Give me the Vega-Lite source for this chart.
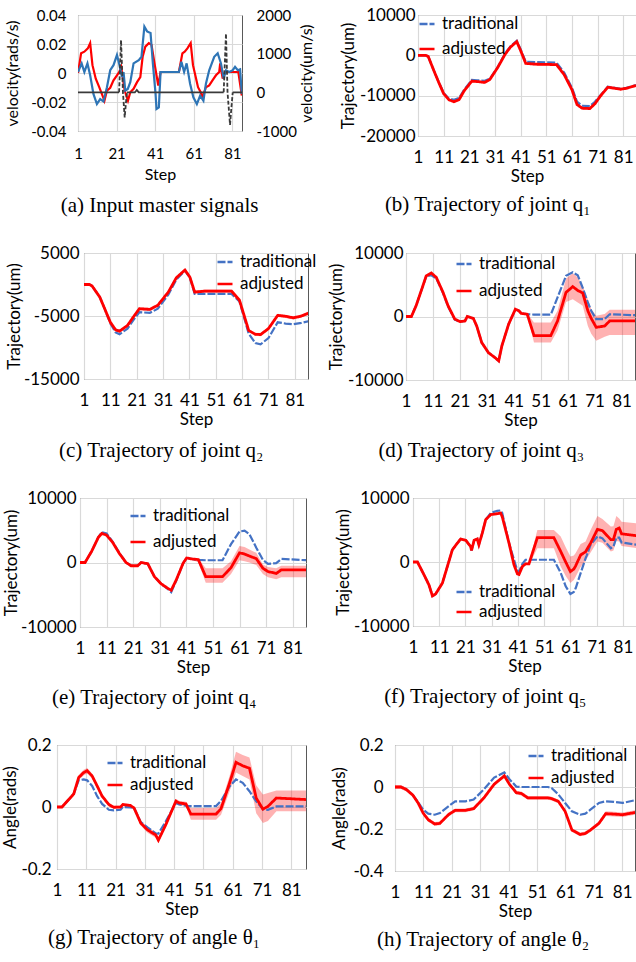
{
"$schema": "https://vega.github.io/schema/vega-lite/v6.json",
"padding": {"left": 0, "top": 5, "right": 0, "bottom": 0},
"background": "white",
"columns": 1,
"align": "none",
"resolve": {"scale": {"color": "independent", "strokeDash": "independent"}, "legend": {"color": "independent", "strokeDash": "independent"}},
"datasets": {
"a_left": [{"c":"red","s":1,"v":0},{"c":"red","s":2.6,"v":0.0136},{"c":"red","s":4.3,"v":0.0147},{"c":"red","s":6.1,"v":0.017},{"c":"red","s":7.3,"v":0.0206},{"c":"red","s":8.5,"v":0.0054},{"c":"red","s":10.2,"v":-0.0039},{"c":"red","s":12,"v":-0.0098},{"c":"red","s":13.7,"v":-0.0156},{"c":"red","s":14.7,"v":-0.0191},{"c":"red","s":16,"v":-0.0121},{"c":"red","s":17.7,"v":-0.0102},{"c":"red","s":19.4,"v":-0.0051},{"c":"red","s":21.2,"v":-0.0016},{"c":"red","s":22.4,"v":0.0007},{"c":"red","s":23.4,"v":0.004},{"c":"red","s":25.2,"v":-0.0121},{"c":"red","s":26.9,"v":-0.0191},{"c":"red","s":28.1,"v":-0.0133},{"c":"red","s":29.8,"v":-0.0109},{"c":"red","s":31.6,"v":-0.0063},{"c":"red","s":33.3,"v":-0.0028},{"c":"red","s":34.5,"v":0.0112},{"c":"red","s":35.9,"v":0.0182},{"c":"red","s":37.7,"v":0.0206},{"c":"red","s":39.1,"v":0.0194},{"c":"red","s":40.8,"v":0.0054},{"c":"red","s":42.6,"v":-0.0086},{"c":"red","s":43.8,"v":0.0007},{"c":"red","s":53.3,"v":0.0007},{"c":"red","s":55.1,"v":0.0136},{"c":"red","s":56.3,"v":0.0147},{"c":"red","s":57.7,"v":0.017},{"c":"red","s":59.4,"v":0.0206},{"c":"red","s":60.6,"v":0.0054},{"c":"red","s":62,"v":-0.0028},{"c":"red","s":63.2,"v":-0.0098},{"c":"red","s":64.6,"v":-0.0133},{"c":"red","s":65.5,"v":-0.0168},{"c":"red","s":67.3,"v":-0.0098},{"c":"red","s":69,"v":-0.0086},{"c":"red","s":70.7,"v":-0.0051},{"c":"red","s":72.5,"v":-0.0016},{"c":"red","s":74.2,"v":0.0007},{"c":"red","s":74.7,"v":0.0066},{"c":"red","s":76,"v":-0.0039},{"c":"red","s":77.2,"v":0.0007},{"c":"red","s":84.1,"v":0.0007},{"c":"red","s":85.9,"v":-0.0156},
{"c":"blue","s":1,"v":0.0007},{"c":"blue","s":2.9,"v":0.0066},{"c":"blue","s":4.3,"v":0.0007},{"c":"blue","s":5.9,"v":0.0066},{"c":"blue","s":7.3,"v":-0.0016},{"c":"blue","s":9,"v":-0.0144},{"c":"blue","s":10.8,"v":-0.0214},{"c":"blue","s":12.5,"v":-0.018},{"c":"blue","s":14.2,"v":-0.0196},{"c":"blue","s":16,"v":-0.0098},{"c":"blue","s":17.7,"v":0.0019},{"c":"blue","s":19.4,"v":0.0054},{"c":"blue","s":21.2,"v":0.0124},{"c":"blue","s":22.5,"v":0.0054},{"c":"blue","s":23.8,"v":-0.0028},{"c":"blue","s":24.6,"v":0.0007},{"c":"blue","s":25.5,"v":-0.0121},{"c":"blue","s":26.8,"v":-0.011},{"c":"blue","s":28.1,"v":-0.0063},{"c":"blue","s":29.8,"v":0.0066},{"c":"blue","s":32.5,"v":0.0089},{"c":"blue","s":33.9,"v":0.0112},{"c":"blue","s":35.4,"v":0.032},{"c":"blue","s":36.8,"v":0.0287},{"c":"blue","s":38.6,"v":0.0276},{"c":"blue","s":39.8,"v":0.0066},{"c":"blue","s":41.2,"v":-0.0144},{"c":"blue","s":41.7,"v":-0.0249},{"c":"blue","s":42.9,"v":-0.0238},{"c":"blue","s":43.8,"v":0.0007},{"c":"blue","s":53.3,"v":0.0007},{"c":"blue","s":54.6,"v":0.0077},{"c":"blue","s":56,"v":0.0007},{"c":"blue","s":57.3,"v":0.0066},{"c":"blue","s":59.1,"v":-0.0074},{"c":"blue","s":60.8,"v":-0.0168},{"c":"blue","s":62.6,"v":-0.0214},{"c":"blue","s":64.3,"v":-0.0156},{"c":"blue","s":66,"v":-0.0191},{"c":"blue","s":67.3,"v":-0.0074},{"c":"blue","s":69,"v":0.0019},{"c":"blue","s":71.6,"v":0.0112},{"c":"blue","s":73.4,"v":0.0136},{"c":"blue","s":75.1,"v":0.0066},{"c":"blue","s":76.5,"v":-0.0039},{"c":"blue","s":77.7,"v":0.0019},{"c":"blue","s":79.4,"v":0.0007},{"c":"blue","s":81.2,"v":0.0019},{"c":"blue","s":82.4,"v":0.0042},{"c":"blue","s":83.8,"v":0.0019},{"c":"blue","s":85,"v":0.0025},{"c":"blue","s":85.9,"v":-0.0144}],
"a_right": [{"k":"solid","g":"s1","s":1,"v":0},{"k":"solid","g":"s1","s":22.3,"v":0},{"k":"solid","g":"s2","s":26.4,"v":0},{"k":"solid","g":"s2","s":30.5,"v":0},{"k":"solid","g":"s2","s":31.5,"v":60},{"k":"solid","g":"s2","s":32.5,"v":0},{"k":"solid","g":"s2","s":76.5,"v":0},{"k":"solid","g":"s3","s":81.2,"v":0},{"k":"solid","g":"s3","s":86,"v":0},
{"k":"dash","g":"d1","s":22.3,"v":0},{"k":"dash","g":"d1","s":23.3,"v":1350},{"k":"dash","g":"d1","s":24.3,"v":0},{"k":"dash","g":"d1","s":25.2,"v":-650},{"k":"dash","g":"d1","s":25.8,"v":-300},{"k":"dash","g":"d1","s":26.4,"v":0},{"k":"dash","g":"d2","s":76.5,"v":0},{"k":"dash","g":"d2","s":77.7,"v":1520},{"k":"dash","g":"d2","s":78.5,"v":0},{"k":"dash","g":"d2","s":79.8,"v":-840},{"k":"dash","g":"d2","s":80.5,"v":-400},{"k":"dash","g":"d2","s":81.2,"v":0}],
"b": [{"s":1,"traditional":0,"adjusted":0,"lo":-300,"hi":300},{"s":4,"traditional":0,"adjusted":0,"lo":-300,"hi":300},{"s":5,"traditional":-300,"adjusted":-300,"lo":-600,"hi":0},{"s":7,"traditional":-3500,"adjusted":-3500,"lo":-3800,"hi":-3200},{"s":9,"traditional":-6500,"adjusted":-6600,"lo":-6900,"hi":-6300},{"s":11,"traditional":-9300,"adjusted":-9500,"lo":-9800,"hi":-9200},{"s":13,"traditional":-10700,"adjusted":-11000,"lo":-11300,"hi":-10700},{"s":15,"traditional":-11000,"adjusted":-11500,"lo":-11800,"hi":-11200},{"s":17,"traditional":-10600,"adjusted":-11000,"lo":-11300,"hi":-10700},{"s":19,"traditional":-8500,"adjusted":-8800,"lo":-9100,"hi":-8500},{"s":22,"traditional":-6100,"adjusted":-6400,"lo":-6700,"hi":-6100},{"s":24,"traditional":-6200,"adjusted":-6500,"lo":-6800,"hi":-6200},{"s":27,"traditional":-6300,"adjusted":-6700,"lo":-7000,"hi":-6400},{"s":29,"traditional":-5800,"adjusted":-6000,"lo":-6300,"hi":-5700},{"s":32,"traditional":-3000,"adjusted":-3100,"lo":-3400,"hi":-2800},{"s":35,"traditional":500,"adjusted":300,"lo":0,"hi":600},{"s":37,"traditional":2200,"adjusted":2000,"lo":1700,"hi":2300},{"s":39.5,"traditional":3600,"adjusted":3400,"lo":3100,"hi":3700},{"s":41,"traditional":1500,"adjusted":1200,"lo":900,"hi":1500},{"s":43,"traditional":-1600,"adjusted":-2000,"lo":-2300,"hi":-1700},{"s":47,"traditional":-1700,"adjusted":-2200,"lo":-2500,"hi":-1900},{"s":55,"traditional":-1800,"adjusted":-2300,"lo":-2600,"hi":-2000},{"s":58,"traditional":-4300,"adjusted":-4800,"lo":-5100,"hi":-4500},{"s":61,"traditional":-8000,"adjusted":-8500,"lo":-8800,"hi":-8200},{"s":63,"traditional":-11500,"adjusted":-12200,"lo":-12500,"hi":-11900},{"s":65,"traditional":-12500,"adjusted":-13100,"lo":-13400,"hi":-12800},{"s":68,"traditional":-12600,"adjusted":-13200,"lo":-13500,"hi":-12900},{"s":70,"traditional":-11500,"adjusted":-12000,"lo":-12300,"hi":-11700},{"s":72,"traditional":-10000,"adjusted":-10200,"lo":-10500,"hi":-9900},{"s":75,"traditional":-7800,"adjusted":-7900,"lo":-8200,"hi":-7600},{"s":77,"traditional":-8000,"adjusted":-8100,"lo":-8400,"hi":-7800},{"s":80,"traditional":-8300,"adjusted":-8400,"lo":-8700,"hi":-8100},{"s":82,"traditional":-8100,"adjusted":-8200,"lo":-8500,"hi":-7900},{"s":86,"traditional":-7400,"adjusted":-7500,"lo":-7800,"hi":-7200}],
"c": [{"s":1,"traditional":0,"adjusted":0,"lo":-250,"hi":250},{"s":3,"traditional":0,"adjusted":0,"lo":-250,"hi":250},{"s":4,"traditional":-200,"adjusted":-200,"lo":-450,"hi":50},{"s":7,"traditional":-2000,"adjusted":-2000,"lo":-2250,"hi":-1750},{"s":9,"traditional":-4000,"adjusted":-4000,"lo":-4250,"hi":-3750},{"s":11,"traditional":-6200,"adjusted":-6000,"lo":-6250,"hi":-5750},{"s":13,"traditional":-7600,"adjusted":-7200,"lo":-7450,"hi":-6950},{"s":14.5,"traditional":-7900,"adjusted":-7400,"lo":-7650,"hi":-7150},{"s":17.5,"traditional":-7000,"adjusted":-6500,"lo":-6750,"hi":-6250},{"s":20,"traditional":-5500,"adjusted":-5000,"lo":-5250,"hi":-4750},{"s":22,"traditional":-4400,"adjusted":-3850,"lo":-4100,"hi":-3600},{"s":26,"traditional":-4500,"adjusted":-3950,"lo":-4200,"hi":-3700},{"s":29,"traditional":-3850,"adjusted":-3300,"lo":-3550,"hi":-3050},{"s":33,"traditional":-1600,"adjusted":-1200,"lo":-1450,"hi":-950},{"s":36,"traditional":750,"adjusted":1050,"lo":800,"hi":1300},{"s":39.3,"traditional":2200,"adjusted":2300,"lo":2050,"hi":2550},{"s":41.2,"traditional":1100,"adjusted":1150,"lo":900,"hi":1400},{"s":43,"traditional":-1500,"adjusted":-1200,"lo":-1450,"hi":-950},{"s":47,"traditional":-1500,"adjusted":-1050,"lo":-1300,"hi":-800},{"s":57,"traditional":-1500,"adjusted":-1050,"lo":-1300,"hi":-800},{"s":60,"traditional":-2700,"adjusted":-2500,"lo":-2750,"hi":-2250},{"s":63.5,"traditional":-7800,"adjusted":-7300,"lo":-7550,"hi":-7050},{"s":66,"traditional":-9300,"adjusted":-7900,"lo":-8150,"hi":-7650},{"s":68,"traditional":-9500,"adjusted":-7950,"lo":-8200,"hi":-7700},{"s":71,"traditional":-8500,"adjusted":-7000,"lo":-7250,"hi":-6750},{"s":74.5,"traditional":-6000,"adjusted":-4900,"lo":-5150,"hi":-4650},{"s":77.5,"traditional":-6200,"adjusted":-5050,"lo":-5300,"hi":-4800},{"s":80.5,"traditional":-6300,"adjusted":-5300,"lo":-5550,"hi":-5050},{"s":83.5,"traditional":-6100,"adjusted":-5000,"lo":-5250,"hi":-4750},{"s":86.5,"traditional":-5800,"adjusted":-4500,"lo":-4750,"hi":-4250}],
"d": [{"s":1,"traditional":0,"adjusted":0,"lo":-100,"hi":100},{"s":3,"traditional":0,"adjusted":0,"lo":-100,"hi":100},{"s":4.75,"traditional":1700,"adjusted":1700,"lo":1600,"hi":1800},{"s":7.25,"traditional":4800,"adjusted":4800,"lo":4700,"hi":4900},{"s":8.5,"traditional":6300,"adjusted":6400,"lo":6300,"hi":6500},{"s":10.4,"traditional":6500,"adjusted":6850,"lo":6750,"hi":6950},{"s":12.25,"traditional":6000,"adjusted":6150,"lo":6050,"hi":6250},{"s":14.75,"traditional":3700,"adjusted":3800,"lo":3700,"hi":3900},{"s":16.6,"traditional":1600,"adjusted":1700,"lo":1600,"hi":1800},{"s":19.1,"traditional":-500,"adjusted":-400,"lo":-500,"hi":-300},{"s":21,"traditional":-800,"adjusted":-800,"lo":-900,"hi":-700},{"s":22.9,"traditional":-700,"adjusted":-700,"lo":-800,"hi":-600},{"s":23.75,"traditional":0,"adjusted":0,"lo":-100,"hi":100},{"s":26,"traditional":-300,"adjusted":-300,"lo":-400,"hi":-200},{"s":27.25,"traditional":-1500,"adjusted":-1500,"lo":-1600,"hi":-1400},{"s":29.1,"traditional":-4100,"adjusted":-4100,"lo":-4200,"hi":-4000},{"s":31.6,"traditional":-5700,"adjusted":-5700,"lo":-5800,"hi":-5600},{"s":34.1,"traditional":-6500,"adjusted":-6500,"lo":-6600,"hi":-6400},{"s":35.4,"traditional":-7000,"adjusted":-7000,"lo":-7100,"hi":-6900},{"s":36.6,"traditional":-4600,"adjusted":-4600,"lo":-4700,"hi":-4500},{"s":39.1,"traditional":-1200,"adjusted":-1200,"lo":-1300,"hi":-1100},{"s":41.6,"traditional":1100,"adjusted":1150,"lo":1050,"hi":1250},{"s":42.9,"traditional":900,"adjusted":900,"lo":800,"hi":1000},{"s":43.75,"traditional":500,"adjusted":500,"lo":400,"hi":600},{"s":46,"traditional":350,"adjusted":350,"lo":200,"hi":500},{"s":48.5,"traditional":300,"adjusted":-3000,"lo":-4100,"hi":-950},{"s":54.75,"traditional":300,"adjusted":-3000,"lo":-4100,"hi":-950},{"s":57.25,"traditional":3000,"adjusted":-700,"lo":-2200,"hi":900},{"s":60.4,"traditional":6400,"adjusted":3800,"lo":2300,"hi":6000},{"s":62.9,"traditional":6950,"adjusted":4700,"lo":2700,"hi":6800},{"s":64.75,"traditional":6500,"adjusted":4100,"lo":2200,"hi":6200},{"s":66.6,"traditional":4500,"adjusted":3700,"lo":1700,"hi":4800},{"s":68.5,"traditional":2200,"adjusted":900,"lo":-1500,"hi":2700},{"s":69.75,"traditional":900,"adjusted":-300,"lo":-2700,"hi":1200},{"s":71.6,"traditional":-400,"adjusted":-1700,"lo":-3800,"hi":100},{"s":74.75,"traditional":-400,"adjusted":-1500,"lo":-3200,"hi":400},{"s":76.6,"traditional":350,"adjusted":-700,"lo":-2900,"hi":1050},{"s":86.5,"traditional":200,"adjusted":-700,"lo":-2900,"hi":1050}],
"e": [{"s":1,"traditional":0,"adjusted":0,"lo":-100,"hi":100},{"s":2.9,"traditional":0,"adjusted":0,"lo":-100,"hi":100},{"s":5.4,"traditional":1750,"adjusted":1750,"lo":1650,"hi":1850},{"s":7.9,"traditional":3900,"adjusted":3900,"lo":3800,"hi":4000},{"s":9.2,"traditional":4700,"adjusted":4500,"lo":4400,"hi":4600},{"s":11,"traditional":4500,"adjusted":4250,"lo":4150,"hi":4350},{"s":13.3,"traditional":3200,"adjusted":3100,"lo":3000,"hi":3200},{"s":15.8,"traditional":1500,"adjusted":1400,"lo":1300,"hi":1500},{"s":18.3,"traditional":0,"adjusted":0,"lo":-100,"hi":100},{"s":20.2,"traditional":-500,"adjusted":-500,"lo":-600,"hi":-400},{"s":22.7,"traditional":-500,"adjusted":-500,"lo":-600,"hi":-400},{"s":24,"traditional":0,"adjusted":0,"lo":-100,"hi":100},{"s":26.5,"traditional":-200,"adjusted":-200,"lo":-300,"hi":-100},{"s":29,"traditional":-2200,"adjusted":-2200,"lo":-2300,"hi":-2100},{"s":31.5,"traditional":-3300,"adjusted":-3300,"lo":-3400,"hi":-3200},{"s":34,"traditional":-4100,"adjusted":-4000,"lo":-4100,"hi":-3900},{"s":35.3,"traditional":-4600,"adjusted":-4300,"lo":-4400,"hi":-4200},{"s":37.2,"traditional":-2800,"adjusted":-2700,"lo":-2800,"hi":-2600},{"s":39.8,"traditional":-100,"adjusted":-100,"lo":-200,"hi":0},{"s":41.1,"traditional":700,"adjusted":700,"lo":600,"hi":800},{"s":43,"traditional":550,"adjusted":550,"lo":450,"hi":650},{"s":45.5,"traditional":400,"adjusted":450,"lo":0,"hi":600},{"s":48.3,"traditional":350,"adjusted":-2200,"lo":-3150,"hi":-900},{"s":54.6,"traditional":350,"adjusted":-2200,"lo":-3150,"hi":-900},{"s":57.8,"traditional":2850,"adjusted":-800,"lo":-1800,"hi":200},{"s":61,"traditional":4800,"adjusted":1500,"lo":350,"hi":2550},{"s":62.9,"traditional":4950,"adjusted":1300,"lo":200,"hi":2400},{"s":64.7,"traditional":4400,"adjusted":1000,"lo":0,"hi":2000},{"s":67.3,"traditional":2300,"adjusted":600,"lo":-400,"hi":1500},{"s":69.8,"traditional":400,"adjusted":-900,"lo":-1800,"hi":-300},{"s":71.7,"traditional":-200,"adjusted":-1400,"lo":-2300,"hi":-700},{"s":74.8,"traditional":-100,"adjusted":-1700,"lo":-2600,"hi":-900},{"s":76.7,"traditional":550,"adjusted":-1150,"lo":-2300,"hi":-500},{"s":86.3,"traditional":350,"adjusted":-1150,"lo":-2300,"hi":-500}],
"f": [{"s":1,"traditional":0,"adjusted":0,"lo":-100,"hi":100},{"s":2.7,"traditional":0,"adjusted":0,"lo":-100,"hi":100},{"s":5.2,"traditional":-2000,"adjusted":-2000,"lo":-2100,"hi":-1900},{"s":7.1,"traditional":-3600,"adjusted":-3600,"lo":-3700,"hi":-3500},{"s":8.4,"traditional":-5300,"adjusted":-5300,"lo":-5400,"hi":-5200},{"s":9.6,"traditional":-5000,"adjusted":-5000,"lo":-5100,"hi":-4900},{"s":12.2,"traditional":-3300,"adjusted":-3300,"lo":-3400,"hi":-3200},{"s":14.1,"traditional":-700,"adjusted":-700,"lo":-800,"hi":-600},{"s":16,"traditional":1900,"adjusted":1900,"lo":1800,"hi":2000},{"s":17.9,"traditional":2950,"adjusted":2950,"lo":2850,"hi":3050},{"s":19.2,"traditional":3600,"adjusted":3600,"lo":3500,"hi":3700},{"s":21.1,"traditional":3400,"adjusted":3400,"lo":3300,"hi":3500},{"s":23,"traditional":2400,"adjusted":2400,"lo":2300,"hi":2500},{"s":23.3,"traditional":1800,"adjusted":1800,"lo":1700,"hi":1900},{"s":24.3,"traditional":3400,"adjusted":3400,"lo":3300,"hi":3500},{"s":25.5,"traditional":3600,"adjusted":3600,"lo":3500,"hi":3700},{"s":26.1,"traditional":2700,"adjusted":2700,"lo":2600,"hi":2800},{"s":27.4,"traditional":4500,"adjusted":4500,"lo":4400,"hi":4600},{"s":28.7,"traditional":6600,"adjusted":6600,"lo":6500,"hi":6700},{"s":30.6,"traditional":7650,"adjusted":7400,"lo":7300,"hi":7500},{"s":33.1,"traditional":8000,"adjusted":7550,"lo":7450,"hi":7650},{"s":34.4,"traditional":8050,"adjusted":7650,"lo":7550,"hi":7750},{"s":35,"traditional":7650,"adjusted":7100,"lo":7000,"hi":7200},{"s":37.6,"traditional":2950,"adjusted":2950,"lo":2850,"hi":3050},{"s":39.5,"traditional":350,"adjusted":-450,"lo":-550,"hi":-350},{"s":40.8,"traditional":-1400,"adjusted":-1850,"lo":-1950,"hi":-1750},{"s":41.4,"traditional":-1500,"adjusted":-1950,"lo":-2050,"hi":-1850},{"s":42.7,"traditional":-300,"adjusted":-700,"lo":-800,"hi":-600},{"s":43.9,"traditional":350,"adjusted":-300,"lo":-400,"hi":-200},{"s":45.2,"traditional":350,"adjusted":-300,"lo":-500,"hi":-100},{"s":48.4,"traditional":350,"adjusted":3800,"lo":2150,"hi":5000},{"s":54.7,"traditional":350,"adjusted":3800,"lo":2150,"hi":5000},{"s":57.3,"traditional":-1700,"adjusted":1650,"lo":-700,"hi":4000},{"s":59.2,"traditional":-3800,"adjusted":0,"lo":-2200,"hi":2300},{"s":61,"traditional":-5000,"adjusted":-1500,"lo":-3300,"hi":850},{"s":62.3,"traditional":-4700,"adjusted":-1100,"lo":-2800,"hi":1000},{"s":63,"traditional":-4100,"adjusted":-600,"lo":-2300,"hi":1400},{"s":64.9,"traditional":-1750,"adjusted":1100,"lo":-800,"hi":2800},{"s":66.8,"traditional":600,"adjusted":1600,"lo":100,"hi":3200},{"s":67.2,"traditional":1000,"adjusted":1900,"lo":500,"hi":3600},{"s":68.7,"traditional":2700,"adjusted":2950,"lo":1500,"hi":5000},{"s":71.3,"traditional":4000,"adjusted":5100,"lo":3200,"hi":7200},{"s":73.2,"traditional":3700,"adjusted":4900,"lo":3000,"hi":6700},{"s":76.4,"traditional":2150,"adjusted":3500,"lo":1650,"hi":5550},{"s":77.4,"traditional":2400,"adjusted":3500,"lo":1800,"hi":5600},{"s":78.5,"traditional":3800,"adjusted":5100,"lo":3300,"hi":7200},{"s":79.6,"traditional":3800,"adjusted":5300,"lo":3200,"hi":6800},{"s":80.5,"traditional":3050,"adjusted":4400,"lo":2500,"hi":6300},{"s":86.3,"traditional":2700,"adjusted":4100,"lo":2150,"hi":6050}],
"g": [{"s":1,"traditional":0,"adjusted":0,"lo":-0.004,"hi":0.004},{"s":2.7,"traditional":0,"adjusted":0,"lo":-0.004,"hi":0.004},{"s":5,"traditional":0.024,"adjusted":0.024,"lo":0.018,"hi":0.03},{"s":6.7,"traditional":0.042,"adjusted":0.042,"lo":0.035,"hi":0.049},{"s":8.4,"traditional":0.086,"adjusted":0.095,"lo":0.087,"hi":0.103},{"s":10.1,"traditional":0.089,"adjusted":0.111,"lo":0.102,"hi":0.12},{"s":11.3,"traditional":0.086,"adjusted":0.117,"lo":0.108,"hi":0.126},{"s":13,"traditional":0.068,"adjusted":0.1,"lo":0.092,"hi":0.108},{"s":14.7,"traditional":0.035,"adjusted":0.068,"lo":0.06,"hi":0.076},{"s":16.4,"traditional":0.01,"adjusted":0.035,"lo":0.028,"hi":0.042},{"s":18.7,"traditional":-0.009,"adjusted":0.008,"lo":0.002,"hi":0.014},{"s":20.4,"traditional":-0.011,"adjusted":-0.001,"lo":-0.006,"hi":0.004},{"s":22.7,"traditional":-0.009,"adjusted":0,"lo":-0.005,"hi":0.005},{"s":23.5,"traditional":0,"adjusted":0.008,"lo":0.003,"hi":0.013},{"s":26,"traditional":-0.001,"adjusted":0.005,"lo":0,"hi":0.01},{"s":27.3,"traditional":-0.003,"adjusted":-0.003,"lo":-0.008,"hi":0.002},{"s":29.6,"traditional":-0.049,"adjusted":-0.052,"lo":-0.06,"hi":-0.044},{"s":31.9,"traditional":-0.066,"adjusted":-0.074,"lo":-0.083,"hi":-0.065},{"s":34.7,"traditional":-0.085,"adjusted":-0.09,"lo":-0.099,"hi":-0.081},{"s":35.6,"traditional":-0.086,"adjusted":-0.107,"lo":-0.116,"hi":-0.098},{"s":38.1,"traditional":-0.047,"adjusted":-0.058,"lo":-0.066,"hi":-0.05},{"s":41.6,"traditional":0.013,"adjusted":0.019,"lo":0.011,"hi":0.027},{"s":42.7,"traditional":0.008,"adjusted":0.013,"lo":0.006,"hi":0.02},{"s":45,"traditional":0.004,"adjusted":0.01,"lo":0.003,"hi":0.017},{"s":46.7,"traditional":0.003,"adjusted":-0.023,"lo":-0.041,"hi":-0.003},{"s":55.3,"traditional":0.003,"adjusted":-0.023,"lo":-0.041,"hi":-0.003},{"s":57,"traditional":0.02,"adjusted":-0.005,"lo":-0.025,"hi":0.012},{"s":59.9,"traditional":0.066,"adjusted":0.077,"lo":0.05,"hi":0.1},{"s":62.1,"traditional":0.089,"adjusted":0.144,"lo":0.111,"hi":0.178},{"s":64.4,"traditional":0.078,"adjusted":0.133,"lo":0.1,"hi":0.168},{"s":66.7,"traditional":0.051,"adjusted":0.125,"lo":0.089,"hi":0.16},{"s":69,"traditional":0.018,"adjusted":0.029,"lo":-0.02,"hi":0.07},{"s":71.3,"traditional":-0.007,"adjusted":-0.007,"lo":-0.052,"hi":0.04},{"s":73,"traditional":-0.009,"adjusted":0.002,"lo":-0.045,"hi":0.045},{"s":75.9,"traditional":0.002,"adjusted":0.029,"lo":-0.014,"hi":0.053},{"s":86,"traditional":0.002,"adjusted":0.024,"lo":-0.014,"hi":0.053}],
"h": [{"s":1,"traditional":0,"adjusted":0,"lo":-0.009,"hi":0.009},{"s":3.1,"traditional":0,"adjusted":0,"lo":-0.009,"hi":0.009},{"s":5,"traditional":-0.012,"adjusted":-0.012,"lo":-0.021,"hi":-0.003},{"s":7.3,"traditional":-0.039,"adjusted":-0.039,"lo":-0.048,"hi":-0.03},{"s":9.1,"traditional":-0.071,"adjusted":-0.075,"lo":-0.084,"hi":-0.066},{"s":10.9,"traditional":-0.108,"adjusted":-0.124,"lo":-0.133,"hi":-0.115},{"s":12.7,"traditional":-0.127,"adjusted":-0.156,"lo":-0.165,"hi":-0.147},{"s":15,"traditional":-0.132,"adjusted":-0.176,"lo":-0.185,"hi":-0.167},{"s":16.8,"traditional":-0.124,"adjusted":-0.173,"lo":-0.182,"hi":-0.164},{"s":19.8,"traditional":-0.092,"adjusted":-0.132,"lo":-0.141,"hi":-0.123},{"s":22.2,"traditional":-0.068,"adjusted":-0.111,"lo":-0.12,"hi":-0.102},{"s":25.8,"traditional":-0.068,"adjusted":-0.111,"lo":-0.12,"hi":-0.102},{"s":28.7,"traditional":-0.06,"adjusted":-0.103,"lo":-0.112,"hi":-0.094},{"s":32.3,"traditional":-0.011,"adjusted":-0.052,"lo":-0.061,"hi":-0.043},{"s":35.9,"traditional":0.045,"adjusted":0.013,"lo":0.004,"hi":0.022},{"s":39.5,"traditional":0.069,"adjusted":0.053,"lo":0.044,"hi":0.062},{"s":41.3,"traditional":0.037,"adjusted":0.013,"lo":0.004,"hi":0.022},{"s":43.7,"traditional":0.002,"adjusted":-0.027,"lo":-0.036,"hi":-0.018},{"s":45.5,"traditional":0,"adjusted":-0.031,"lo":-0.04,"hi":-0.022},{"s":47.8,"traditional":0,"adjusted":-0.052,"lo":-0.061,"hi":-0.043},{"s":54.9,"traditional":0,"adjusted":-0.052,"lo":-0.061,"hi":-0.043},{"s":56.1,"traditional":-0.005,"adjusted":-0.055,"lo":-0.064,"hi":-0.046},{"s":58.5,"traditional":-0.035,"adjusted":-0.068,"lo":-0.077,"hi":-0.059},{"s":60.9,"traditional":-0.076,"adjusted":-0.116,"lo":-0.125,"hi":-0.107},{"s":63.3,"traditional":-0.116,"adjusted":-0.205,"lo":-0.214,"hi":-0.196},{"s":66.2,"traditional":-0.132,"adjusted":-0.226,"lo":-0.235,"hi":-0.217},{"s":68,"traditional":-0.127,"adjusted":-0.221,"lo":-0.23,"hi":-0.212},{"s":69.8,"traditional":-0.108,"adjusted":-0.205,"lo":-0.214,"hi":-0.196},{"s":72.8,"traditional":-0.076,"adjusted":-0.173,"lo":-0.182,"hi":-0.164},{"s":75.2,"traditional":-0.068,"adjusted":-0.127,"lo":-0.138,"hi":-0.116},{"s":78.1,"traditional":-0.071,"adjusted":-0.129,"lo":-0.14,"hi":-0.118},{"s":81.1,"traditional":-0.076,"adjusted":-0.132,"lo":-0.143,"hi":-0.121},{"s":86.5,"traditional":-0.06,"adjusted":-0.119,"lo":-0.13,"hi":-0.108}]
},
"spacing": 26,
"concat": [
{"spacing": 0, "resolve": {"scale": {"color": "independent", "strokeDash": "independent"}, "legend": {"color": "independent", "strokeDash": "independent"}}, "hconcat": [
{"width": 4, "height": 1, "data": {"values": []}, "mark": "point", "view": {"stroke": null}},
{"spacing": 23, "resolve": {"scale": {"color": "independent", "strokeDash": "independent"}, "legend": {"color": "independent", "strokeDash": "independent"}}, "hconcat": [
{"width": 164, "height": 116,
 "title": {"text": "(a) Input master signals", "offset": 13},
 "encoding": {"x": {"field": "s", "type": "quantitative", "title": "Step", "scale": {"domain": [1, 86], "nice": false, "zero": false}, "axis": {"values": [1, 21, 41, 61, 81], "format": "d", "labelFontSize": 15, "titleFontSize": 16, "labelPadding": 15, "titlePadding": 5}}},
 "layer": [
  {"data": {"name": "a_left"}, "mark": {"type": "line", "strokeWidth": 2.2, "clip": true},
   "encoding": {
    "y": {"field": "v", "type": "quantitative", "title": "velocity(rads/s)", "scale": {"domain": [-0.04, 0.04], "nice": false, "zero": false}, "axis": {"values": [-0.04, -0.02, 0, 0.02, 0.04], "format": "~g", "labelExpr": "replace(datum.label, '−', '-')", "labelFontSize": 15, "titleFontSize": 16, "labelPadding": 12, "titlePadding": 10, "labelOverlap": false}},
    "color": {"field": "c", "type": "nominal", "scale": {"domain": ["red", "blue"], "range": ["#ff0000", "#2E75B6"]}, "legend": null}}},
  {"data": {"name": "a_right"}, "mark": {"type": "line", "strokeWidth": 1.8, "color": "#3a3a3a", "clip": true},
   "encoding": {
    "y": {"field": "v", "type": "quantitative", "title": "velocity(um/s)", "scale": {"domain": [-1000, 2000], "nice": false, "zero": false}, "axis": {"orient": "right", "grid": false, "values": [-1000, 0, 1000, 2000], "format": "d", "labelExpr": "replace(datum.label, '−', '-')", "labelFontSize": 15, "titleFontSize": 16, "labelPadding": 14, "titlePadding": 2, "titleAngle": 270, "titleBaseline": "top", "labelOverlap": false}},
    "detail": {"field": "g", "type": "nominal"},
    "strokeDash": {"field": "k", "type": "nominal", "scale": {"domain": ["solid", "dash"], "range": [[1, 0], [4, 2]]}, "legend": null}}}
 ],
 "resolve": {"scale": {"y": "independent"}}
},
{"width": 218, "height": 121,
 "title": {"text": "(b) Trajectory of joint q₁", "offset": 10},
 "data": {"name": "b"},
 "encoding": {"x": {"field": "s", "type": "quantitative", "title": "Step", "scale": {"domain": [1, 86], "nice": false, "zero": false}, "axis": {"values": [1, 11, 21, 31, 41, 51, 61, 71, 81], "format": "d"}}},
 "layer": [
  {"mark": {"type": "area", "color": "#ff0000", "opacity": 0.3, "clip": true}, "encoding": {"y": {"field": "lo", "type": "quantitative", "title": "Trajectory(um)", "scale": {"domain": [-20000, 10000], "nice": false, "zero": false}, "axis": {"values": [-20000, -10000, 0, 10000], "format": "d", "labelExpr": "replace(datum.label, '−', '-')", "labelPadding": 3, "titlePadding": 2}}, "y2": {"field": "hi"}}},
  {"transform": [{"fold": ["traditional"], "as": ["series", "value"]}], "mark": {"type": "line", "strokeWidth": 2.2, "clip": true}, "encoding": {"y": {"field": "value", "type": "quantitative", "title": "Trajectory(um)", "scale": {"domain": [-20000, 10000], "nice": false, "zero": false}}, "color": {"field": "series", "type": "nominal", "scale": {"domain": ["traditional", "adjusted"], "range": ["#4472C4", "#ff0000"]}, "legend": {"title": null, "legendX": 0, "legendY": 0, "rowPadding": 8}}, "strokeDash": {"field": "series", "type": "nominal", "scale": {"domain": ["traditional", "adjusted"], "range": [[8, 2], [1, 0]]}, "legend": {"title": null, "legendX": 0, "legendY": 0, "rowPadding": 8}}}},
  {"transform": [{"fold": ["adjusted"], "as": ["series", "value"]}], "mark": {"type": "line", "strokeWidth": 2.8, "clip": true}, "encoding": {"y": {"field": "value", "type": "quantitative", "title": "Trajectory(um)", "scale": {"domain": [-20000, 10000], "nice": false, "zero": false}}, "color": {"field": "series", "type": "nominal", "scale": {"domain": ["traditional", "adjusted"], "range": ["#4472C4", "#ff0000"]}, "legend": {"title": null, "legendX": 0, "legendY": 0, "rowPadding": 8}}, "strokeDash": {"field": "series", "type": "nominal", "scale": {"domain": ["traditional", "adjusted"], "range": [[8, 2], [1, 0]]}, "legend": {"title": null, "legendX": 0, "legendY": 0, "rowPadding": 8}}}}
 ]
}
]}
]},
{"spacing": 0, "resolve": {"scale": {"color": "independent", "strokeDash": "independent"}, "legend": {"color": "independent", "strokeDash": "independent"}}, "hconcat": [
{"width": 4, "height": 1, "data": {"values": []}, "mark": "point", "view": {"stroke": null}},
{"spacing": 8, "resolve": {"scale": {"color": "independent", "strokeDash": "independent"}, "legend": {"color": "independent", "strokeDash": "independent"}}, "hconcat": [
{"width": 224, "height": 126,
 "title": {"text": "(c) Trajectory of joint q₂", "offset": 13},
 "data": {"name": "c"},
 "encoding": {"x": {"field": "s", "type": "quantitative", "title": "Step", "scale": {"domain": [1, 86], "nice": false, "zero": false}, "axis": {"values": [1, 11, 21, 31, 41, 51, 61, 71, 81], "format": "d"}}},
 "layer": [
  {"mark": {"type": "area", "color": "#ff0000", "opacity": 0.3, "clip": true}, "encoding": {"y": {"field": "lo", "type": "quantitative", "title": "Trajectory(um)", "scale": {"domain": [-15000, 5000], "nice": false, "zero": false}, "axis": {"values": [-15000, -10000, -5000, 0, 5000], "format": "d", "labelExpr": "replace(datum.label, '−', '-')", "labelPadding": 5, "titlePadding": 0}}, "y2": {"field": "hi"}}},
  {"transform": [{"fold": ["traditional"], "as": ["series", "value"]}], "mark": {"type": "line", "strokeWidth": 2.2, "clip": true}, "encoding": {"y": {"field": "value", "type": "quantitative", "title": "Trajectory(um)", "scale": {"domain": [-15000, 5000], "nice": false, "zero": false}}, "color": {"field": "series", "type": "nominal", "scale": {"domain": ["traditional", "adjusted"], "range": ["#4472C4", "#ff0000"]}, "legend": {"title": null, "legendX": 132, "legendY": 0, "rowPadding": 5}}, "strokeDash": {"field": "series", "type": "nominal", "scale": {"domain": ["traditional", "adjusted"], "range": [[8, 2], [1, 0]]}, "legend": {"title": null, "legendX": 132, "legendY": 0, "rowPadding": 5}}}},
  {"transform": [{"fold": ["adjusted"], "as": ["series", "value"]}], "mark": {"type": "line", "strokeWidth": 2.8, "clip": true}, "encoding": {"y": {"field": "value", "type": "quantitative", "title": "Trajectory(um)", "scale": {"domain": [-15000, 5000], "nice": false, "zero": false}}, "color": {"field": "series", "type": "nominal", "scale": {"domain": ["traditional", "adjusted"], "range": ["#4472C4", "#ff0000"]}, "legend": {"title": null, "legendX": 132, "legendY": 0, "rowPadding": 5}}, "strokeDash": {"field": "series", "type": "nominal", "scale": {"domain": ["traditional", "adjusted"], "range": [[8, 2], [1, 0]]}, "legend": {"title": null, "legendX": 132, "legendY": 0, "rowPadding": 5}}}}
 ]
},
{"width": 229, "height": 127,
 "title": {"text": "(d) Trajectory of joint q₃", "offset": 12},
 "data": {"name": "d"},
 "encoding": {"x": {"field": "s", "type": "quantitative", "title": "Step", "scale": {"domain": [1, 86], "nice": false, "zero": false}, "axis": {"values": [1, 11, 21, 31, 41, 51, 61, 71, 81], "format": "d"}}},
 "layer": [
  {"mark": {"type": "area", "color": "#ff0000", "opacity": 0.3, "clip": true}, "encoding": {"y": {"field": "lo", "type": "quantitative", "title": "Trajectory(um)", "scale": {"domain": [-10000, 10000], "nice": false, "zero": false}, "axis": {"values": [-10000, -5000, 0, 5000, 10000], "format": "d", "labelExpr": "replace(datum.label, '−', '-')", "labelPadding": 3, "titlePadding": 2}}, "y2": {"field": "hi"}}},
  {"transform": [{"fold": ["traditional"], "as": ["series", "value"]}], "mark": {"type": "line", "strokeWidth": 2.2, "clip": true}, "encoding": {"y": {"field": "value", "type": "quantitative", "title": "Trajectory(um)", "scale": {"domain": [-10000, 10000], "nice": false, "zero": false}}, "color": {"field": "series", "type": "nominal", "scale": {"domain": ["traditional", "adjusted"], "range": ["#4472C4", "#ff0000"]}, "legend": {"title": null, "legendX": 49, "legendY": 2, "rowPadding": 10}}, "strokeDash": {"field": "series", "type": "nominal", "scale": {"domain": ["traditional", "adjusted"], "range": [[8, 2], [1, 0]]}, "legend": {"title": null, "legendX": 49, "legendY": 2, "rowPadding": 10}}}},
  {"transform": [{"fold": ["adjusted"], "as": ["series", "value"]}], "mark": {"type": "line", "strokeWidth": 2.8, "clip": true}, "encoding": {"y": {"field": "value", "type": "quantitative", "title": "Trajectory(um)", "scale": {"domain": [-10000, 10000], "nice": false, "zero": false}}, "color": {"field": "series", "type": "nominal", "scale": {"domain": ["traditional", "adjusted"], "range": ["#4472C4", "#ff0000"]}, "legend": {"title": null, "legendX": 49, "legendY": 2, "rowPadding": 10}}, "strokeDash": {"field": "series", "type": "nominal", "scale": {"domain": ["traditional", "adjusted"], "range": [[8, 2], [1, 0]]}, "legend": {"title": null, "legendX": 49, "legendY": 2, "rowPadding": 10}}}}
 ]
}
]}
]},
{"spacing": 0, "resolve": {"scale": {"color": "independent", "strokeDash": "independent"}, "legend": {"color": "independent", "strokeDash": "independent"}}, "hconcat": [
{"width": 1, "height": 1, "data": {"values": []}, "mark": "point", "view": {"stroke": null}},
{"spacing": 26, "resolve": {"scale": {"color": "independent", "strokeDash": "independent"}, "legend": {"color": "independent", "strokeDash": "independent"}}, "hconcat": [
{"width": 226, "height": 129,
 "title": {"text": "(e) Trajectory of joint q₄", "offset": 12},
 "data": {"name": "e"},
 "encoding": {"x": {"field": "s", "type": "quantitative", "title": "Step", "scale": {"domain": [1, 86], "nice": false, "zero": false}, "axis": {"values": [1, 11, 21, 31, 41, 51, 61, 71, 81], "format": "d"}}},
 "layer": [
  {"mark": {"type": "area", "color": "#ff0000", "opacity": 0.3, "clip": true}, "encoding": {"y": {"field": "lo", "type": "quantitative", "title": "Trajectory(um)", "scale": {"domain": [-10000, 10000], "nice": false, "zero": false}, "axis": {"values": [-10000, -5000, 0, 5000, 10000], "format": "d", "labelExpr": "replace(datum.label, '−', '-')", "labelPadding": 4, "titlePadding": 0}}, "y2": {"field": "hi"}}},
  {"transform": [{"fold": ["traditional"], "as": ["series", "value"]}], "mark": {"type": "line", "strokeWidth": 2.2, "clip": true}, "encoding": {"y": {"field": "value", "type": "quantitative", "title": "Trajectory(um)", "scale": {"domain": [-10000, 10000], "nice": false, "zero": false}}, "color": {"field": "series", "type": "nominal", "scale": {"domain": ["traditional", "adjusted"], "range": ["#4472C4", "#ff0000"]}, "legend": {"title": null, "legendX": 49, "legendY": 9, "rowPadding": 9}}, "strokeDash": {"field": "series", "type": "nominal", "scale": {"domain": ["traditional", "adjusted"], "range": [[8, 2], [1, 0]]}, "legend": {"title": null, "legendX": 49, "legendY": 9, "rowPadding": 9}}}},
  {"transform": [{"fold": ["adjusted"], "as": ["series", "value"]}], "mark": {"type": "line", "strokeWidth": 2.8, "clip": true}, "encoding": {"y": {"field": "value", "type": "quantitative", "title": "Trajectory(um)", "scale": {"domain": [-10000, 10000], "nice": false, "zero": false}}, "color": {"field": "series", "type": "nominal", "scale": {"domain": ["traditional", "adjusted"], "range": ["#4472C4", "#ff0000"]}, "legend": {"title": null, "legendX": 49, "legendY": 9, "rowPadding": 9}}, "strokeDash": {"field": "series", "type": "nominal", "scale": {"domain": ["traditional", "adjusted"], "range": [[8, 2], [1, 0]]}, "legend": {"title": null, "legendX": 49, "legendY": 9, "rowPadding": 9}}}}
 ]
},
{"width": 223, "height": 128,
 "title": {"text": "(f) Trajectory of joint q₅", "offset": 12},
 "data": {"name": "f"},
 "encoding": {"x": {"field": "s", "type": "quantitative", "title": "Step", "scale": {"domain": [1, 86], "nice": false, "zero": false}, "axis": {"values": [1, 11, 21, 31, 41, 51, 61, 71, 81], "format": "d"}}},
 "layer": [
  {"mark": {"type": "area", "color": "#ff0000", "opacity": 0.3, "clip": true}, "encoding": {"y": {"field": "lo", "type": "quantitative", "title": "Trajectory(um)", "scale": {"domain": [-10000, 10000], "nice": false, "zero": false}, "axis": {"values": [-10000, -5000, 0, 5000, 10000], "format": "d", "labelExpr": "replace(datum.label, '−', '-')", "labelPadding": 4, "titlePadding": 1}}, "y2": {"field": "hi"}}},
  {"transform": [{"fold": ["traditional"], "as": ["series", "value"]}], "mark": {"type": "line", "strokeWidth": 2.2, "clip": true}, "encoding": {"y": {"field": "value", "type": "quantitative", "title": "Trajectory(um)", "scale": {"domain": [-10000, 10000], "nice": false, "zero": false}}, "color": {"field": "series", "type": "nominal", "scale": {"domain": ["traditional", "adjusted"], "range": ["#4472C4", "#ff0000"]}, "legend": {"title": null, "legendX": 42, "legendY": 85, "rowPadding": 3}}, "strokeDash": {"field": "series", "type": "nominal", "scale": {"domain": ["traditional", "adjusted"], "range": [[8, 2], [1, 0]]}, "legend": {"title": null, "legendX": 42, "legendY": 85, "rowPadding": 3}}}},
  {"transform": [{"fold": ["adjusted"], "as": ["series", "value"]}], "mark": {"type": "line", "strokeWidth": 2.8, "clip": true}, "encoding": {"y": {"field": "value", "type": "quantitative", "title": "Trajectory(um)", "scale": {"domain": [-10000, 10000], "nice": false, "zero": false}}, "color": {"field": "series", "type": "nominal", "scale": {"domain": ["traditional", "adjusted"], "range": ["#4472C4", "#ff0000"]}, "legend": {"title": null, "legendX": 42, "legendY": 85, "rowPadding": 3}}, "strokeDash": {"field": "series", "type": "nominal", "scale": {"domain": ["traditional", "adjusted"], "range": [[8, 2], [1, 0]]}, "legend": {"title": null, "legendX": 42, "legendY": 85, "rowPadding": 3}}}}
 ]
}
]}
]},
{"spacing": 0, "resolve": {"scale": {"color": "independent", "strokeDash": "independent"}, "legend": {"color": "independent", "strokeDash": "independent"}}, "hconcat": [
{"width": 1, "height": 1, "data": {"values": []}, "mark": "point", "view": {"stroke": null}},
{"spacing": 23, "resolve": {"scale": {"color": "independent", "strokeDash": "independent"}, "legend": {"color": "independent", "strokeDash": "independent"}}, "hconcat": [
{"width": 249, "height": 124,
 "title": {"text": "(g) Trajectory of angle θ₁", "offset": 10},
 "data": {"name": "g"},
 "encoding": {"x": {"field": "s", "type": "quantitative", "title": "Step", "scale": {"domain": [1, 86], "nice": false, "zero": false}, "axis": {"values": [1, 11, 21, 31, 41, 51, 61, 71, 81], "format": "d"}}},
 "layer": [
  {"mark": {"type": "area", "color": "#ff0000", "opacity": 0.3, "clip": true}, "encoding": {"y": {"field": "lo", "type": "quantitative", "title": "Angle(rads)", "scale": {"domain": [-0.2, 0.2], "nice": false, "zero": false}, "axis": {"values": [-0.2, 0, 0.2], "format": "~g", "labelExpr": "replace(datum.label, '−', '-')", "labelPadding": 6, "titlePadding": 1}}, "y2": {"field": "hi"}}},
  {"transform": [{"fold": ["traditional"], "as": ["series", "value"]}], "mark": {"type": "line", "strokeWidth": 2.2, "clip": true}, "encoding": {"y": {"field": "value", "type": "quantitative", "title": "Angle(rads)", "scale": {"domain": [-0.2, 0.2], "nice": false, "zero": false}}, "color": {"field": "series", "type": "nominal", "scale": {"domain": ["traditional", "adjusted"], "range": ["#4472C4", "#ff0000"]}, "legend": {"title": null, "legendX": 49, "legendY": 9, "rowPadding": 5}}, "strokeDash": {"field": "series", "type": "nominal", "scale": {"domain": ["traditional", "adjusted"], "range": [[8, 2], [1, 0]]}, "legend": {"title": null, "legendX": 49, "legendY": 9, "rowPadding": 5}}}},
  {"transform": [{"fold": ["adjusted"], "as": ["series", "value"]}], "mark": {"type": "line", "strokeWidth": 2.8, "clip": true}, "encoding": {"y": {"field": "value", "type": "quantitative", "title": "Angle(rads)", "scale": {"domain": [-0.2, 0.2], "nice": false, "zero": false}}, "color": {"field": "series", "type": "nominal", "scale": {"domain": ["traditional", "adjusted"], "range": ["#4472C4", "#ff0000"]}, "legend": {"title": null, "legendX": 49, "legendY": 9, "rowPadding": 5}}, "strokeDash": {"field": "series", "type": "nominal", "scale": {"domain": ["traditional", "adjusted"], "range": [[8, 2], [1, 0]]}, "legend": {"title": null, "legendX": 49, "legendY": 9, "rowPadding": 5}}}}
 ]
},
{"width": 240, "height": 126,
 "title": {"text": "(h) Trajectory of angle θ₂", "offset": 10},
 "data": {"name": "h"},
 "encoding": {"x": {"field": "s", "type": "quantitative", "title": "Step", "scale": {"domain": [1, 85.5], "nice": false, "zero": false}, "axis": {"values": [1, 11, 21, 31, 41, 51, 61, 71, 81], "format": "d"}}},
 "layer": [
  {"mark": {"type": "area", "color": "#ff0000", "opacity": 0.3, "clip": true}, "encoding": {"y": {"field": "lo", "type": "quantitative", "title": "Angle(rads)", "scale": {"domain": [-0.4, 0.2], "nice": false, "zero": false}, "axis": {"values": [-0.4, -0.2, 0, 0.2], "format": "~g", "labelExpr": "replace(datum.label, '−', '-')", "labelPadding": 12, "titlePadding": 4}}, "y2": {"field": "hi"}}},
  {"transform": [{"fold": ["traditional"], "as": ["series", "value"]}], "mark": {"type": "line", "strokeWidth": 2.2, "clip": true}, "encoding": {"y": {"field": "value", "type": "quantitative", "title": "Angle(rads)", "scale": {"domain": [-0.4, 0.2], "nice": false, "zero": false}}, "color": {"field": "series", "type": "nominal", "scale": {"domain": ["traditional", "adjusted"], "range": ["#4472C4", "#ff0000"]}, "legend": {"title": null, "legendX": 132, "legendY": 2, "rowPadding": 5}}, "strokeDash": {"field": "series", "type": "nominal", "scale": {"domain": ["traditional", "adjusted"], "range": [[8, 2], [1, 0]]}, "legend": {"title": null, "legendX": 132, "legendY": 2, "rowPadding": 5}}}},
  {"transform": [{"fold": ["adjusted"], "as": ["series", "value"]}], "mark": {"type": "line", "strokeWidth": 2.8, "clip": true}, "encoding": {"y": {"field": "value", "type": "quantitative", "title": "Angle(rads)", "scale": {"domain": [-0.4, 0.2], "nice": false, "zero": false}}, "color": {"field": "series", "type": "nominal", "scale": {"domain": ["traditional", "adjusted"], "range": ["#4472C4", "#ff0000"]}, "legend": {"title": null, "legendX": 132, "legendY": 2, "rowPadding": 5}}, "strokeDash": {"field": "series", "type": "nominal", "scale": {"domain": ["traditional", "adjusted"], "range": [[8, 2], [1, 0]]}, "legend": {"title": null, "legendX": 132, "legendY": 2, "rowPadding": 5}}}}
 ]
}
]}
]}
],
"config": {
 "font": "Lato",
 "view": {"stroke": "#595959", "strokeWidth": 1},
 "axis": {"labelFont": "Lato", "labelFontSize": 17, "labelColor": "#000000", "titleFont": "Lato", "titleFontSize": 17, "titleFontWeight": "normal", "titleColor": "#000000", "grid": true, "gridColor": "#d9d9d9", "gridWidth": 1.2, "ticks": false, "domain": false, "labelFlush": false, "labelOverlap": false},
 "axisX": {"labelPadding": 13, "titlePadding": 3},
 "legend": {"orient": "none", "labelFont": "Lato", "labelFontSize": 17, "labelColor": "#000000", "symbolType": "stroke", "symbolStrokeWidth": 2.5, "symbolSize": 225, "labelOffset": 6, "padding": 0},
 "title": {"font": "Liberation Serif", "fontSize": 21, "fontWeight": "normal", "color": "#000000", "orient": "bottom", "anchor": "middle", "frame": "bounds", "offset": 14}
}
}
